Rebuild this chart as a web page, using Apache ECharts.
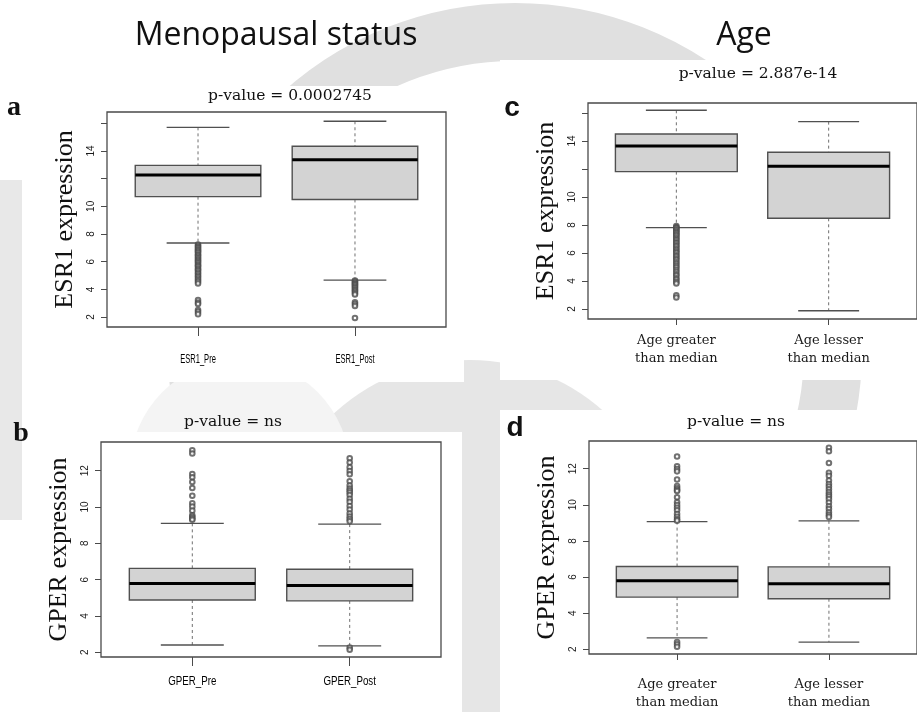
<!DOCTYPE html>
<html>
<head>
<meta charset="utf-8">
<script src="https://cdn.jsdelivr.net/npm/echarts@6/dist/echarts.min.js"></script>
<style>
  html, body { margin: 0; padding: 0; background: #ffffff; }
  #chart { width: 917px; height: 712px; }
</style>
</head>
<body>
<div id="chart"></div>
<script>
// ---------------------------------------------------------------
// Box statistics, one row per group:
// [group position, lower whisker, Q1, median, Q3, upper whisker]
// ---------------------------------------------------------------
const esr1MenoCategories = ['ESR1_Pre', 'ESR1_Post'];
const esr1MenoBoxes = [
  [1, 7.35, 10.70, 12.26, 12.96, 15.71],
  [2, 4.67, 10.50, 13.37, 14.34, 16.15]
];
const esr1PreOutliers = [7.24, 7.15, 7.06, 6.98, 6.87, 6.80, 6.71, 6.62, 6.50, 6.44, 6.33, 6.25, 6.14, 6.06, 5.97,
  5.88, 5.76, 5.70, 5.61, 5.49, 5.42, 5.33, 5.20, 5.11, 4.98, 4.89, 4.77, 4.66, 4.55, 4.42, 3.22, 3.05, 2.94, 2.51, 2.37, 2.21];
const esr1PostOutliers = [4.63, 4.56, 4.48, 4.40, 4.34, 4.27, 4.17, 4.10, 3.99, 3.91, 3.83, 3.72, 3.63, 3.07, 2.94, 2.80, 1.93];

const gperMenoCategories = ['GPER_Pre', 'GPER_Post'];
const gperMenoBoxes = [
  [1, 2.40, 4.88, 5.79, 6.62, 9.10],
  [2, 2.35, 4.83, 5.68, 6.57, 9.06]
];
const gperPreOutliers = [13.12, 12.95, 11.82, 11.64, 11.38, 11.05, 10.62, 10.21, 10.02, 9.80, 9.55, 9.45, 9.36, 9.30];
const gperPostOutliers = [12.68, 12.45, 12.18, 11.98, 11.80, 11.42, 11.18, 11.02, 10.91, 10.80, 10.66, 10.45, 10.28,
  10.05, 9.86, 9.64, 9.47, 9.33, 9.21, 2.26, 2.14];

const ageCategories = ['Age greater\nthan median', 'Age lesser\nthan median'];
const esr1AgeBoxes = [
  [1, 7.81, 11.81, 13.64, 14.50, 16.19],
  [2, 1.88, 8.48, 12.19, 13.19, 15.38]
];
const esr1OlderOutliers = [7.93, 7.84, 7.78, 7.68, 7.61, 7.50, 7.42, 7.31, 7.23, 7.11, 7.00, 6.91, 6.77, 6.70, 6.56,
  6.47, 6.32, 6.22, 6.09, 5.99, 5.84, 5.74, 5.61, 5.49, 5.34, 5.22, 5.07, 4.94, 4.78, 4.65, 4.49, 4.37, 4.20, 4.08,
  3.93, 3.82, 2.98, 2.82];
const esr1YoungerOutliers = [];

const gperAgeBoxes = [
  [1, 2.63, 4.89, 5.80, 6.58, 9.07],
  [2, 2.40, 4.80, 5.63, 6.56, 9.11]
];
const gperOlderOutliers = [12.67, 12.13, 11.98, 11.85, 11.40, 11.03, 10.91, 10.82, 10.76, 10.42, 10.14, 9.98, 9.83,
  9.70, 9.49, 9.33, 9.20, 9.12, 2.40, 2.28, 2.14];
const gperYoungerOutliers = [13.15, 12.96, 12.31, 11.77, 11.60, 11.34, 11.15, 11.01, 10.86, 10.70, 10.57, 10.45,
  10.31, 10.12, 9.92, 9.77, 9.58, 9.45, 9.33];

// y-axis ticks; some labels are left out where they would crowd
const esr1Ticks = [2, 4, 6, 8, 10, 12, 14, 16];
const esr1TickLabels = [2, 4, 6, 8, 10, 14];
const gperTicks = [2, 4, 6, 8, 10, 12];
const gperTickLabels = [2, 4, 6, 8, 10, 12];

const pValues = ['p-value = 0.0002745', 'p-value = ns', 'p-value = 2.887e-14', 'p-value = ns'];

// ---------------------------------------------------------------
// Panel layout
// ---------------------------------------------------------------
const panels = [
  { grid: { left: 107, top: 112, width: 339, height: 215 }, y: [1.28, 16.82], ticks: esr1Ticks, labels: esr1TickLabels,
    name: 'ESR1 expression', cats: esr1MenoCategories, boxes: esr1MenoBoxes, out: [esr1PreOutliers, esr1PostOutliers],
    condensed: 0.56, catMargin: 25, tickLen: 9 },
  { grid: { left: 101, top: 442, width: 340, height: 215 }, y: [1.74, 13.58], ticks: gperTicks, labels: gperTickLabels,
    name: 'GPER expression', cats: gperMenoCategories, boxes: gperMenoBoxes, out: [gperPreOutliers, gperPostOutliers],
    condensed: 0.72, catMargin: 17, tickLen: 9 },
  { grid: { left: 588, top: 103, width: 340, height: 216 }, y: [1.29, 16.71], ticks: esr1Ticks, labels: esr1TickLabels,
    name: 'ESR1 expression', cats: ageCategories, boxes: esr1AgeBoxes, out: [esr1OlderOutliers, esr1YoungerOutliers],
    condensed: 0, catMargin: 13, tickLen: 6 },
  { grid: { left: 589, top: 441, width: 340, height: 216 }, y: [1.74, 13.53], ticks: gperTicks, labels: gperTickLabels,
    name: 'GPER expression', cats: ageCategories, boxes: gperAgeBoxes, out: [gperOlderOutliers, gperYoungerOutliers],
    condensed: 0, catMargin: 22, tickLen: 6 }
];

const FRAME = '#4a4a4a';

// Draws one R-style box: dashed whiskers, caps, filled box and a heavy median bar
function renderBox(params, api) {
  const x = api.value(0);
  const lo = api.coord([x, api.value(1)]);
  const q1 = api.coord([x, api.value(2)]);
  const md = api.coord([x, api.value(3)]);
  const q3 = api.coord([x, api.value(4)]);
  const hi = api.coord([x, api.value(5)]);
  const halfBox = api.size([0.4, 0])[0];
  const halfCap = api.size([0.2, 0])[0];
  const cx = lo[0];
  const whisker = { stroke: '#707070', lineWidth: 1, lineDash: [3, 3] };
  const edge = { stroke: '#505050', lineWidth: 1.4 };
  return {
    type: 'group',
    children: [
      { type: 'line', shape: { x1: cx, y1: hi[1], x2: cx, y2: q3[1] }, style: whisker },
      { type: 'line', shape: { x1: cx, y1: q1[1], x2: cx, y2: lo[1] }, style: whisker },
      { type: 'line', shape: { x1: cx - halfCap, y1: hi[1], x2: cx + halfCap, y2: hi[1] }, style: edge },
      { type: 'line', shape: { x1: cx - halfCap, y1: lo[1], x2: cx + halfCap, y2: lo[1] }, style: edge },
      { type: 'rect', shape: { x: cx - halfBox, y: q3[1], width: 2 * halfBox, height: q1[1] - q3[1] },
        style: { fill: '#d3d3d3', stroke: '#505050', lineWidth: 1.4 } },
      { type: 'line', shape: { x1: cx - halfBox, y1: md[1], x2: cx + halfBox, y2: md[1] },
        style: { stroke: '#000000', lineWidth: 3 } }
    ]
  };
}

const grids = [], xAxes = [], yAxes = [], series = [];
panels.forEach((p, i) => {
  grids.push(Object.assign({ show: true, backgroundColor: '#ffffff', borderColor: FRAME, borderWidth: 1.3 }, p.grid));
  xAxes.push({
    gridIndex: i, type: 'value', min: 0.42, max: 2.58,
    axisLine: { show: false }, splitLine: { show: false },
    axisTick: { show: true, customValues: [1, 2], length: p.tickLen, lineStyle: { color: FRAME } },
    // condensed sans labels are drawn separately below; serif labels come straight from the axis
    axisLabel: {
      show: !p.condensed, customValues: [1, 2], margin: p.catMargin, color: '#1a1a1a',
      fontFamily: 'DejaVu Serif, serif', fontSize: 13, lineHeight: 18,
      formatter: v => p.cats[Math.round(v) - 1]
    }
  });
  yAxes.push({
    gridIndex: i, type: 'value', min: p.y[0], max: p.y[1],
    axisLine: { show: false }, splitLine: { show: false },
    axisTick: { show: true, customValues: p.ticks, length: 6, lineStyle: { color: FRAME } },
    axisLabel: { customValues: p.labels, rotate: 90, margin: 11, fontFamily: 'Liberation Sans, Arial, sans-serif',
      fontSize: 10, color: '#1a1a1a' },
    name: p.name, nameLocation: 'middle', nameRotate: 90, nameGap: 29,
    nameTextStyle: { fontFamily: 'Liberation Serif, Times New Roman, serif', fontSize: 26, color: '#111111' }
  });
  series.push({
    type: 'custom', xAxisIndex: i, yAxisIndex: i, renderItem: renderBox,
    encode: { x: 0, y: [1, 2, 3, 4, 5] }, data: p.boxes, z: 3
  });
  const pts = [];
  p.out.forEach((vals, g) => vals.forEach(v => pts.push([g + 1, v])));
  series.push({
    type: 'scatter', xAxisIndex: i, yAxisIndex: i, data: pts, z: 4,
    symbol: 'emptyCircle', symbolSize: 4.6,
    itemStyle: { color: '#4d4d4d', borderWidth: 0.9 }
  });
});

// Pale seal watermark behind the panels and white mats under each panel
const WM = '#e0e0e0';
const backdrop = [
  { type: 'circle', z: -20, shape: { cx: 515, cy: 350, r: 318 }, style: { fill: 'none', stroke: WM, lineWidth: 58 } },
  { type: 'circle', z: -20, shape: { cx: 470, cy: 560, r: 200 }, style: { fill: '#e6e6e6' } },
  { type: 'circle', z: -19, shape: { cx: 240, cy: 470, r: 110 }, style: { fill: '#f4f4f4' } },
  { type: 'rect', z: -20, shape: { x: 0, y: 180, width: 22, height: 340 }, style: { fill: '#e8e8e8' } },
  { type: 'rect', z: -10, shape: { x: 36, y: 86, width: 428, height: 296 }, style: { fill: '#ffffff' } },
  { type: 'rect', z: -10, shape: { x: 30, y: 432, width: 432, height: 280 }, style: { fill: '#ffffff' } },
  { type: 'rect', z: -10, shape: { x: 500, y: 60, width: 417, height: 320 }, style: { fill: '#ffffff' } },
  { type: 'rect', z: -10, shape: { x: 500, y: 410, width: 417, height: 302 }, style: { fill: '#ffffff' } }
];

const serif = 'DejaVu Serif, serif';
function label(x, y, text, font, size, weight) {
  return { type: 'text', z: 50, style: { x: x, y: y, text: text, fontFamily: font, fontSize: size,
    fontWeight: weight || 'normal', fill: '#111', textAlign: 'center', textVerticalAlign: 'middle' } };
}
const texts = [
  label(276, 36, 'Menopausal status', 'Open Sans, sans-serif', 32),
  label(744, 36, 'Age', 'Open Sans, sans-serif', 32),
  label(290, 96, pValues[0], serif, 15.5),
  label(233, 422, pValues[1], serif, 15.5),
  label(758, 74, pValues[2], serif, 15.5),
  label(736, 422, pValues[3], serif, 15.5),
  label(14, 108, 'a', 'Liberation Serif, serif', 28, 'bold'),
  label(21, 434, 'b', 'Liberation Serif, serif', 28, 'bold'),
  label(512, 108, 'c', 'Liberation Sans, sans-serif', 28, 'bold'),
  label(515, 428, 'd', 'Liberation Sans, sans-serif', 28, 'bold')
];

const chart = echarts.init(document.getElementById('chart'), null, { renderer: 'canvas' });
chart.setOption({
  backgroundColor: '#ffffff',
  animation: false,
  grid: grids,
  xAxis: xAxes,
  yAxis: yAxes,
  series: series,
  graphic: backdrop.concat(texts)
});

// Condensed category names under the menopausal-status panels, placed at each group's axis position
const catLabels = [];
panels.forEach((p, i) => {
  if (!p.condensed) return;
  p.cats.forEach((name, g) => {
    const pt = chart.convertToPixel({ xAxisIndex: i, yAxisIndex: i }, [g + 1, p.y[0]]);
    catLabels.push({
      type: 'text', z: 50, x: pt[0], y: pt[1] + p.catMargin, scaleX: p.condensed,
      style: { x: 0, y: 0, text: name, fontFamily: 'Liberation Sans, Arial, sans-serif', fontSize: 13.5,
        fill: '#000000', textAlign: 'center', textVerticalAlign: 'top' }
    });
  });
});
chart.setOption({ graphic: backdrop.concat(texts, catLabels) });
</script>
</body>
</html>
